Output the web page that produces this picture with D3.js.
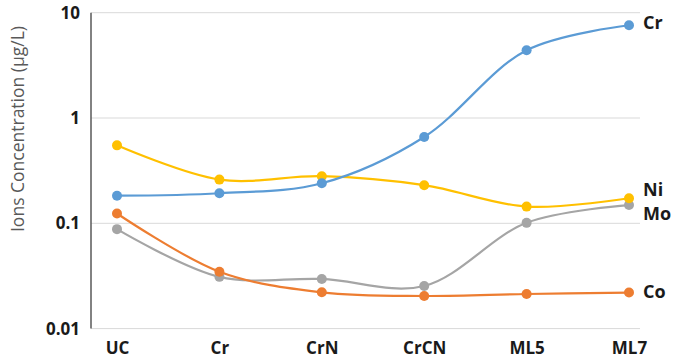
<!DOCTYPE html>
<html>
<head>
<meta charset="utf-8">
<script src="https://cdn.jsdelivr.net/npm/d3@7"></script>
<style>
  html, body { margin: 0; padding: 0; background: #fff; }
  svg { display: block; }
</style>
</head>
<body>
<svg id="chart" width="687" height="360"></svg>
<script>
// Coatings tested and the ion release measured for each element (µg/L)
const categories = ["UC", "Cr", "CrN", "CrCN", "ML5", "ML7"];
const crValues = [0.183, 0.193, 0.24, 0.66, 4.4, 7.6];
const niValues = [0.55, 0.26, 0.28, 0.23, 0.144, 0.173];
const moValues = [0.088, 0.031, 0.0296, 0.0254, 0.101, 0.149];
const coValues = [0.124, 0.0347, 0.0221, 0.0204, 0.0213, 0.022];
const yTicks = [0.01, 0.1, 1, 10];
const tickLabels = ["0.01", "0.1", "1", "10"];

const series = [
  { name: "Mo", values: moValues, color: "#a5a5a5", labelDy: 9 },
  { name: "Co", values: coValues, color: "#ed7d31", labelDy: -1 },
  { name: "Ni", values: niValues, color: "#ffc000", labelDy: -9 },
  { name: "Cr", values: crValues, color: "#5b9bd5", labelDy: -3 }
];

const svg = d3.select("#chart");
const plotLeft = 91, plotRight = 640, plotTop = 12.7, plotBottom = 328.6;

const x = d3.scalePoint().domain(categories).range([117, 629]);
const y = d3.scaleLog().domain([0.01, 10]).range([plotBottom, plotTop]);

// horizontal gridlines
svg.append("g")
  .selectAll("line")
  .data(yTicks)
  .join("line")
  .attr("x1", plotLeft).attr("x2", plotRight)
  .attr("y1", d => y(d)).attr("y2", d => y(d))
  .attr("stroke", "#d9d9d9").attr("stroke-width", 1);

// y axis line
svg.append("line")
  .attr("x1", plotLeft).attr("x2", plotLeft)
  .attr("y1", plotTop).attr("y2", plotBottom)
  .attr("stroke", "#595959").attr("stroke-width", 1.5);

// y tick labels
svg.append("g")
  .selectAll("text")
  .data(yTicks)
  .join("text")
  .attr("x", 80)
  .attr("y", d => y(d))
  .attr("dy", "0.35em")
  .attr("text-anchor", "end")
  .attr("font-family", "'Open Sans', 'DejaVu Sans', sans-serif")
  .attr("font-weight", "bold")
  .attr("font-size", 17)
  .attr("fill", "#1a1a1a")
  .text((d, i) => tickLabels[i]);

// x axis via d3 axis, styled without domain/ticks
const xAxis = svg.append("g")
  .attr("transform", `translate(0,${plotBottom})`)
  .call(d3.axisBottom(x).tickSize(0).tickPadding(10));
xAxis.select(".domain").remove();
xAxis.selectAll("text")
  .attr("font-family", "'Open Sans', 'DejaVu Sans', sans-serif")
  .attr("font-weight", "bold")
  .attr("font-size", 17)
  .attr("fill", "#1a1a1a")
  .attr("dy", "0.9em");

// y axis title
svg.append("text")
  .attr("transform", "translate(24,129) rotate(-90)")
  .attr("text-anchor", "middle")
  .attr("font-family", "'Open Sans', 'DejaVu Sans', sans-serif")
  .attr("font-size", 17.5)
  .attr("fill", "#595959")
  .text("Ions Concentration (µg/L)");

const line = d3.line()
  .x((d, i) => x(categories[i]))
  .y(d => y(d))
  .curve(d3.curveCatmullRom.alpha(0.5));

const g = svg.append("g");
series.forEach(s => {
  g.append("path")
    .datum(s.values)
    .attr("d", line)
    .attr("fill", "none")
    .attr("stroke", s.color)
    .attr("stroke-width", 2.2);
  g.selectAll(null)
    .data(s.values)
    .join("circle")
    .attr("cx", (d, i) => x(categories[i]))
    .attr("cy", d => y(d))
    .attr("r", 5)
    .attr("fill", s.color);
});

// series name labels at the right end
series.forEach(s => {
  const last = s.values[s.values.length - 1];
  svg.append("text")
    .attr("x", 643)
    .attr("y", y(last) + s.labelDy)
    .attr("dy", "0.35em")
    .attr("font-family", "'Open Sans', 'DejaVu Sans', sans-serif")
    .attr("font-weight", "bold")
    .attr("font-size", 18)
    .attr("fill", "#1a1a1a")
    .text(s.name);
});
</script>
</body>
</html>
